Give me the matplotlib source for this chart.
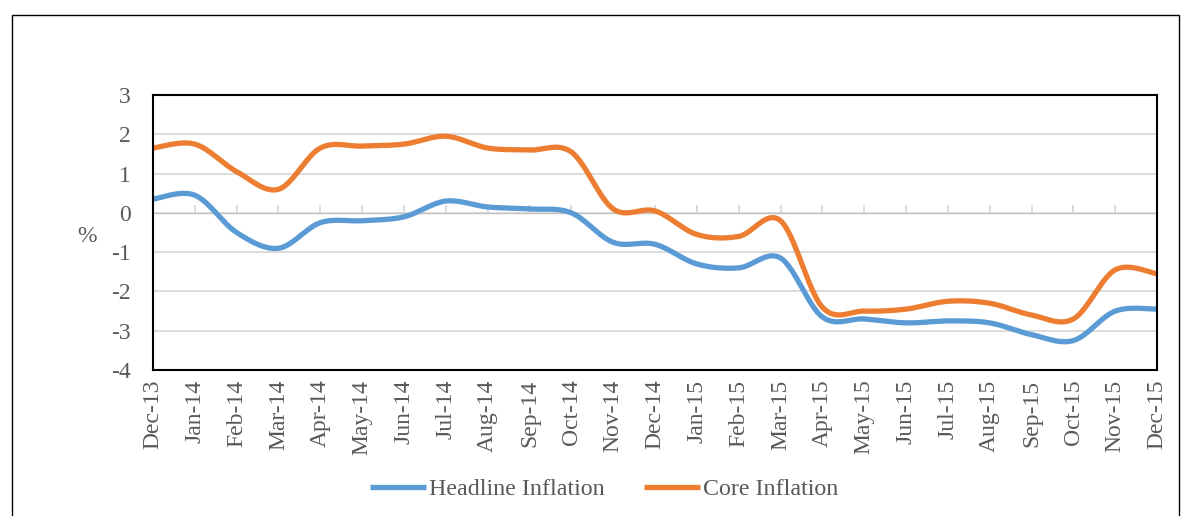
import numpy as np
import matplotlib.pyplot as plt
from matplotlib.patches import Rectangle

months = ["Dec-13", "Jan-14", "Feb-14", "Mar-14", "Apr-14", "May-14", "Jun-14",
          "Jul-14", "Aug-14", "Sep-14", "Oct-14", "Nov-14", "Dec-14", "Jan-15",
          "Feb-15", "Mar-15", "Apr-15", "May-15", "Jun-15", "Jul-15", "Aug-15",
          "Sep-15", "Oct-15", "Nov-15", "Dec-15"]
headline = [0.35, 0.45, -0.5, -0.9, -0.25, -0.2, -0.1, 0.3, 0.15, 0.1, 0.0,
            -0.75, -0.8, -1.3, -1.4, -1.15, -2.65, -2.7, -2.8, -2.75, -2.8,
            -3.1, -3.25, -2.5, -2.45]
core = [1.65, 1.75, 1.05, 0.6, 1.65, 1.7, 1.75, 1.95, 1.65, 1.6, 1.55,
        0.1, 0.05, -0.55, -0.6, -0.2, -2.4, -2.5, -2.45, -2.25, -2.3,
        -2.6, -2.7, -1.45, -1.55]


def smooth(x, y, n=30):
    # Excel-style smoothed line: Bezier segments with Catmull-Rom controls
    x = np.asarray(x, float)
    y = np.asarray(y, float)
    px = np.concatenate([[x[0]], x, [x[-1]]])
    py = np.concatenate([[y[0]], y, [y[-1]]])
    xs, ys = [], []
    t = np.linspace(0, 1, n)
    for i in range(1, len(px) - 2):
        p0 = np.array([px[i], py[i]])
        p3 = np.array([px[i + 1], py[i + 1]])
        p1 = p0 + (np.array([px[i + 1], py[i + 1]]) - np.array([px[i - 1], py[i - 1]])) / 6
        p2 = p3 - (np.array([px[i + 2], py[i + 2]]) - np.array([px[i], py[i]])) / 6
        b = ((1 - t) ** 3)[:, None] * p0 + (3 * (1 - t) ** 2 * t)[:, None] * p1 \
            + (3 * (1 - t) * t ** 2)[:, None] * p2 + (t ** 3)[:, None] * p3
        xs.append(b[:, 0])
        ys.append(b[:, 1])
    return np.concatenate(xs), np.concatenate(ys)


plt.rcParams['font.family'] = ['Liberation Serif', 'DejaVu Serif']
plt.rcParams['axes.unicode_minus'] = False

grey = '#595959'
fig = plt.figure(figsize=(11.82, 5.16), dpi=100)
ax = fig.add_axes([0.1294, 0.2829, 0.8495, 0.533])

x = np.arange(len(months))
ax.set_xlim(0, len(months) - 1)
ax.set_ylim(-4, 3)
ax.set_yticks(range(-4, 4))
ax.yaxis.grid(True, color='#d9d9d9', lw=1.3)
ax.set_axisbelow(True)

hx, hy = smooth(x, headline)
cx, cy = smooth(x, core)
ax.plot(hx, hy, color='#5b9bd5', lw=3.8, solid_capstyle='butt', label='Headline Inflation')
ax.plot(cx, cy, color='#ed7d31', lw=3.8, solid_capstyle='butt', label='Core Inflation')

for s in ax.spines.values():
    s.set_color('black')
    s.set_linewidth(1.5)

ax.set_xticks(x)
ax.set_xticklabels(months, rotation=90, fontsize=17, color=grey)
ax.tick_params(axis='x', length=0, pad=7)
ax.tick_params(axis='y', length=0, pad=16, labelsize=17, labelcolor=grey)

# zero axis with category ticks
sec = ax.secondary_xaxis(4 / 7)
sec.set_xticks(x)
sec.set_xticklabels([])
sec.tick_params(axis='x', length=6, color='#d9d9d9', width=1.3)
sec.spines['bottom'].set_color('#d9d9d9')
sec.spines['bottom'].set_linewidth(1.5)

ax.set_ylabel('%', rotation=0, fontsize=17, color=grey, va='center', ha='center')
ax.yaxis.set_label_coords(-0.066, 0.484)

fig.legend(loc='center', bbox_to_anchor=(0.511, 1 - 489 / 516), ncol=2,
           frameon=False, fontsize=17.3, labelcolor=grey,
           handlelength=2.35, handletextpad=0.1, columnspacing=1.65)

fig.patches.append(Rectangle((12 / 1182, -0.05), 1167 / 1182, 1 - 15 / 516 + 0.05,
                             transform=fig.transFigure, fill=False,
                             edgecolor='black', lw=1.0))

fig.savefig('out.png', dpi=100)
